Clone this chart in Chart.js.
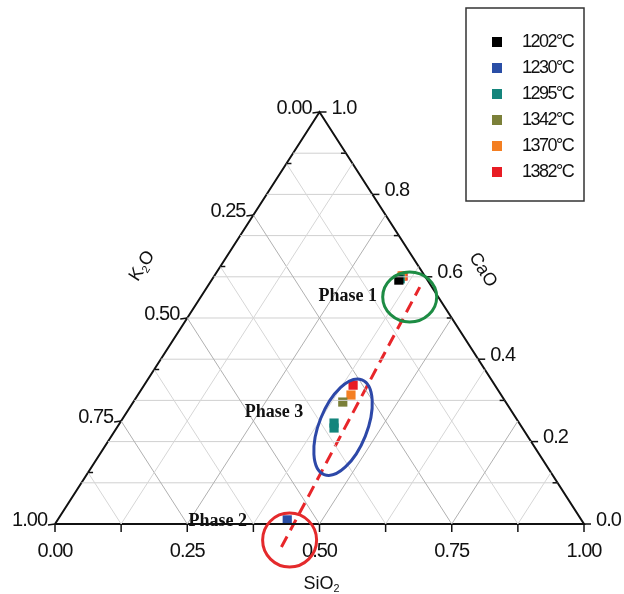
<!DOCTYPE html>
<html>
<head>
<meta charset="utf-8">
<script src="https://cdn.jsdelivr.net/npm/chart.js@4.4.0/dist/chart.umd.min.js"></script>
<style>
  body { margin: 0; background: #fff; }
  canvas { display: block; }
</style>
</head>
<body>
<canvas id="ternary" width="624" height="594"></canvas>
<script>
// temperatures and measured compositions (mass fraction), K2O = 1 - SiO2 - CaO
let temps = ["1202°C", "1230°C", "1295°C", "1342°C", "1370°C", "1382°C"];
let colors = ["#000000", "#2a4ea6", "#14857c", "#7b8039", "#f47f22", "#e81c24"];
let sio2 = [[0.354], [0.434], [0.355, 0.405, 0.411], [0.396], [0.355, 0.403], [0.357, 0.395]];
let cao  = [[0.592], [0.010], [0.595, 0.245, 0.233], [0.296], [0.602, 0.313], [0.602, 0.337]];

// dashed trend line (SiO2, CaO)
let trendSio2 = [0.456, 0.402];
let trendCao = [-0.056, 0.575];

// axis ticks
let siTicks = [0, 0.125, 0.25, 0.375, 0.5, 0.625, 0.75, 0.875, 1];
let kTicks = [0, 0.125, 0.25, 0.375, 0.5, 0.625, 0.75, 0.875, 1];
let caTicks = [0, 0.1, 0.2, 0.3, 0.4, 0.5, 0.6, 0.7, 0.8, 0.9, 1];
let siLabels = ["0.00", "0.25", "0.50", "0.75", "1.00"];
let kLabels = ["0.00", "0.25", "0.50", "0.75", "1.00"];
let caLabels = ["0.0", "0.2", "0.4", "0.6", "0.8", "1.0"];

// phase annotations (SiO2, CaO)
let phaseNames = ["Phase 1", "Phase 3", "Phase 2"];
let phaseSio2 = [0.277, 0.278, 0.304];
let phaseCao = [0.553, 0.272, 0.007];
let ringSio2 = [0.395, 0.427, 0.463];
let ringCao = [0.551, 0.235, -0.039];
let ringColors = ["#1d8c44", "#2d48a8", "#e42a2c"];

function toXY(s, c) {
    return { x: s + c / 2, y: c };
}

let datasets = [];

// grid lines
function gridLine(a, b, color) {
    datasets.push({
        type: "line", data: [a, b], borderColor: color, borderWidth: 1,
        pointRadius: 0, fill: false
    });
}
siTicks.slice(1, -1).forEach(v => {
    let col = (v * 4) % 1 === 0 ? "#b0b0b0" : "#d6d6d6";
    gridLine(toXY(v, 0), toXY(v, 1 - v), col);
});
kTicks.slice(1, -1).forEach(v => {
    let col = (v * 4) % 1 === 0 ? "#b0b0b0" : "#d6d6d6";
    gridLine(toXY(1 - v, 0), toXY(0, 1 - v), col);
});
caTicks.slice(1, -1).forEach(v => {
    gridLine(toXY(0, v), toXY(1 - v, v), "#d0d0d0");
});

// triangle frame
datasets.push({
    type: "line", data: [toXY(0, 0), toXY(1, 0), toXY(0, 1), toXY(0, 0)],
    borderColor: "#111", borderWidth: 2, pointRadius: 0, fill: false
});

// trend line
datasets.push({
    type: "line",
    data: trendSio2.map((s, i) => toXY(s, trendCao[i])),
    borderColor: "#e8262a", borderWidth: 3, borderDash: [12, 7],
    pointRadius: 0, fill: false
});

// measured points
temps.forEach((t, i) => {
    datasets.push({
        type: "scatter",
        label: t,
        data: sio2[i].map((s, j) => toXY(s, cao[i][j])),
        backgroundColor: colors[i],
        borderColor: colors[i],
        borderWidth: 0,
        pointStyle: "rect",
        pointRadius: 6.5
    });
});

function drawSub(ctx, parts, x, y, angle, size) {
    // parts: [text, isSub]
    ctx.save();
    ctx.translate(x, y);
    ctx.rotate(angle);
    let total = 0;
    parts.forEach(p => {
        ctx.font = (p[1] ? size * 0.6 : size) + "px 'Liberation Sans', Arial";
        total += ctx.measureText(p[0]).width;
    });
    let cx = -total / 2;
    ctx.textBaseline = "middle";
    ctx.textAlign = "left";
    parts.forEach(p => {
        ctx.font = (p[1] ? size * 0.6 : size) + "px 'Liberation Sans', Arial";
        ctx.fillText(p[0], cx, p[1] ? size * 0.3 : 0);
        cx += ctx.measureText(p[0]).width;
    });
    ctx.restore();
}

let ternaryAxes = {
    id: "ternaryAxes",
    afterDatasetsDraw(chart) {
        let ctx = chart.ctx;
        let xs = chart.scales.x, ys = chart.scales.y;
        let pix = p => ({ x: xs.getPixelForValue(p.x), y: ys.getPixelForValue(p.y) });

        ctx.save();
        ctx.strokeStyle = "#111";
        ctx.lineWidth = 1.5;
        ctx.fillStyle = "#111";
        ctx.font = "20px 'Liberation Sans', Arial";
        ctx.letterSpacing = "-1px";
        ctx.textBaseline = "middle";

        // bottom axis (SiO2)
        siTicks.forEach((v, i) => {
            let p = pix(toXY(v, 0));
            ctx.beginPath();
            ctx.moveTo(p.x, p.y);
            ctx.lineTo(p.x, p.y + 8);
            ctx.stroke();
            if (i % 2 === 0) {
                ctx.textAlign = "center";
                ctx.fillText(siLabels[i / 2], p.x, p.y + 27);
            }
        });

        // left axis (K2O)
        kTicks.forEach((v, i) => {
            let p = pix(toXY(0, 1 - v));
            ctx.beginPath();
            ctx.moveTo(p.x, p.y);
            if (i % 2 === 0) ctx.lineTo(p.x - 7, p.y + 1);
            else ctx.lineTo(p.x + 5, p.y);
            ctx.stroke();
            if (i % 2 === 0) {
                ctx.textAlign = "right";
                ctx.fillText(kLabels[i / 2], p.x - 8, p.y - 4);
            }
        });

        // right axis (CaO)
        caTicks.forEach((v, i) => {
            let p = pix(toXY(1 - v, v));
            ctx.beginPath();
            ctx.moveTo(p.x, p.y);
            if (i % 2 === 0) ctx.lineTo(p.x + 7, p.y);
            else ctx.lineTo(p.x - 5, p.y);
            ctx.stroke();
            if (i % 2 === 0) {
                ctx.textAlign = "left";
                ctx.fillText(caLabels[i / 2], p.x + 12, p.y - 4);
            }
        });
        ctx.letterSpacing = "0px";

        // axis titles
        let kMid = pix(toXY(0, 0.5));
        drawSub(ctx, [["K", 0], ["2", 1], ["O", 0]], kMid.x - 45, kMid.y - 52, -Math.PI * 0.32, 18);
        let cMid = pix(toXY(0.5, 0.5));
        drawSub(ctx, [["CaO", 0]], cMid.x + 31, cMid.y - 48, Math.PI * 0.32, 18);
        let sMid = pix(toXY(0.5, 0));
        drawSub(ctx, [["SiO", 0], ["2", 1]], sMid.x + 2, sMid.y + 60, 0, 18);

        // phase rings
        let rings = [[27, 25, 0], [24, 51, 0.38], [27, 27, 0]];
        ringSio2.forEach((s, i) => {
            let c = pix(toXY(s, ringCao[i]));
            ctx.beginPath();
            ctx.ellipse(c.x, c.y, rings[i][0], rings[i][1], rings[i][2], 0, Math.PI * 2);
            ctx.strokeStyle = ringColors[i];
            ctx.lineWidth = 3;
            ctx.stroke();
        });

        // phase labels
        ctx.fillStyle = "#111";
        ctx.font = "bold 18px 'Liberation Serif', 'Times New Roman'";
        ctx.textAlign = "center";
        phaseNames.forEach((n, i) => {
            let p = pix(toXY(phaseSio2[i], phaseCao[i]));
            ctx.fillText(n, p.x, p.y);
        });

        // legend box
        ctx.strokeStyle = "#333";
        ctx.lineWidth = 1.5;
        ctx.strokeRect(466, 8, 118, 193);
        ctx.font = "18px 'Liberation Sans', Arial";
        ctx.letterSpacing = "-1.5px";
        ctx.textAlign = "left";
        chart.data.datasets.filter(d => d.label).forEach((d, i) => {
            let y = 42 + i * 26;
            ctx.fillStyle = d.backgroundColor;
            ctx.fillRect(492, y - 5, 10, 10);
            ctx.fillStyle = "#111";
            ctx.fillText(d.label, 522, y);
        });
        ctx.restore();
    }
};

new Chart(document.getElementById("ternary"), {
    type: "scatter",
    data: { datasets: datasets },
    options: {
        responsive: false,
        animation: false,
        devicePixelRatio: 1,
        layout: { padding: 0, autoPadding: false },
        plugins: { legend: { display: false }, tooltip: { enabled: false } },
        scales: {
            x: { type: "linear", display: false, min: -0.10397, max: 1.07561 },
            y: { type: "linear", display: false, min: -0.16990, max: 1.27184 }
        }
    },
    plugins: [ternaryAxes]
});
</script>
</body>
</html>
